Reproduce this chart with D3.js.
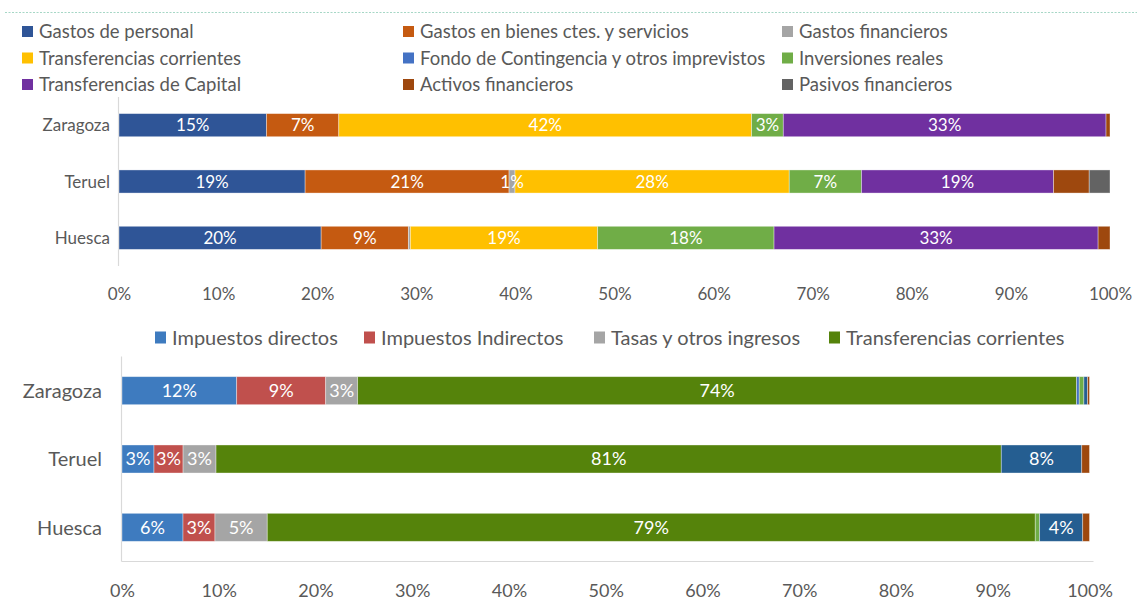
<!DOCTYPE html>
<html>
<head>
<meta charset="utf-8">
<script src="https://cdn.jsdelivr.net/npm/d3@7"></script>
<style>
  html, body { margin: 0; padding: 0; background: #fff; }
  svg text { font-family: Lato, "Open Sans", sans-serif; }
</style>
</head>
<body>
<svg id="chart" width="1137" height="601"></svg>
<script>
// ---------- Data: top chart (gastos) ----------
const topCategories = ["Zaragoza", "Teruel", "Huesca"];
const topSeriesNames = [
  "Gastos de personal", "Gastos en bienes ctes. y servicios", "Gastos financieros",
  "Transferencias corrientes", "Fondo de Contingencia y otros imprevistos", "Inversiones reales",
  "Transferencias de Capital", "Activos financieros", "Pasivos financieros"
];
const gastosPersonal = [14.9, 18.8, 20.4];
const gastosBienes = [7.3, 20.6, 8.8];
const gastosFinancieros = [0.0, 0.6, 0.2];
const transferenciasCorrientesG = [41.7, 27.7, 18.9];
const fondoContingencia = [0, 0, 0];
const inversionesReales = [3.2, 7.3, 17.8];
const transferenciasCapitalG = [32.6, 19.4, 32.7];
const activosFinancierosG = [0.4, 3.6, 1.2];
const pasivosFinancierosG = [0, 2.1, 0];
const topColors = ["#2F5597", "#C55A11", "#A5A5A5", "#FFC000", "#4472C4", "#70AD47", "#7030A0", "#9E480E", "#636363"];
const topShowLabel = [true, true, true, true, true, true, true, false, false];

// ---------- Data: bottom chart (ingresos) ----------
const bottomCategories = ["Zaragoza", "Teruel", "Huesca"];
const bottomSeriesNames = [
  "Impuestos directos", "Impuestos Indirectos", "Tasas y otros ingresos", "Transferencias corrientes",
  "Ingresos patrimoniales", "Enajenación de inversiones reales", "Transferencias de capital", "Activos financieros"
];
const impuestosDirectos = [11.85, 3.3, 6.3];
const impuestosIndirectos = [9.2, 3.0, 3.3];
const tasasOtros = [3.3, 3.4, 5.4];
const transferenciasCorrientesI = [74.3, 81.0, 79.3];
const ingresosPatrimoniales = [0.27, 0, 0];
const enajenacion = [0.48, 0, 0.45];
const transferenciasCapitalI = [0.38, 8.3, 4.45];
const activosFinancierosI = [0.2, 0.8, 0.7];
const bottomColors = ["#3E7BBF", "#C0504D", "#A5A5A5", "#55830B", "#4472C4", "#70AD47", "#255E91", "#9E480E"];
const bottomShowLabel = [true, true, true, true, true, true, true, false];
const bottomLegendCount = 4;

const tickValues = [0, 0.1, 0.2, 0.3, 0.4, 0.5, 0.6, 0.7, 0.8, 0.9, 1.0];

const svg = d3.select("#chart");
const textGray = "#595959";

// dotted top border
svg.append("line").attr("x1", 5).attr("x2", 1137).attr("y1", 12.5).attr("y2", 12.5)
  .attr("stroke", "#A6D7C6").attr("stroke-width", 1.2).attr("stroke-dasharray", "2,1.5");

function buildRows(categories, seriesArrays) {
  return categories.map((c, i) => {
    const row = { cat: c };
    seriesArrays.forEach((arr, k) => row["s" + k] = arr[i]);
    return row;
  });
}

function drawChart(opts) {
  const { categories, seriesArrays, colors, showLabel, x0, x1, yTop, yBottom, padInner,
          labelFont, catFont, catRight, axisY, axisFont, drawBottomLine } = opts;
  const keys = seriesArrays.map((_, k) => "s" + k);
  const rows = buildRows(categories, seriesArrays);
  const stack = d3.stack().keys(keys).offset(d3.stackOffsetExpand);
  const series = stack(rows);

  const x = d3.scaleLinear().domain([0, 1]).range([x0, x1]);
  const y = d3.scaleBand().domain(categories).range([yTop, yBottom]).paddingInner(padInner).paddingOuter(padInner / 2);

  const g = svg.append("g");
  g.append("line").attr("x1", x0 - 0.5).attr("x2", x0 - 0.5).attr("y1", yTop).attr("y2", yBottom)
    .attr("stroke", "#D9D9D9").attr("stroke-width", 1.2);
  if (drawBottomLine) {
    g.append("line").attr("x1", x0 - 0.5).attr("x2", x1 + 4).attr("y1", yBottom).attr("y2", yBottom)
      .attr("stroke", "#D9D9D9").attr("stroke-width", 1.2);
  }

  const sg = g.selectAll("g.series").data(series).join("g").attr("fill", (d, i) => colors[i]);
  sg.selectAll("rect").data(d => d).join("rect")
    .attr("x", d => x(d[0]))
    .attr("width", d => Math.max(0, x(d[1]) - x(d[0])))
    .attr("y", d => y(d.data.cat))
    .attr("height", y.bandwidth())
    .attr("stroke", "#fff").attr("stroke-opacity", 0.45).attr("stroke-width", 0.8);

  series.forEach((s, i) => {
    if (!showLabel[i]) return;
    s.forEach(d => {
      const v = d[1] - d[0];
      const pct = Math.round(v * 100);
      if (pct < 1) return;
      g.append("text")
        .attr("x", x((d[0] + d[1]) / 2))
        .attr("y", y(d.data.cat) + y.bandwidth() / 2)
        .attr("dy", "0.36em")
        .attr("text-anchor", "middle")
        .attr("fill", "#fff")
        .attr("font-size", labelFont)
        .text(pct + "%");
    });
  });

  g.selectAll("text.cat").data(categories).join("text").attr("class", "cat")
    .attr("x", catRight)
    .attr("y", d => y(d) + y.bandwidth() / 2)
    .attr("dy", "0.36em")
    .attr("text-anchor", "end")
    .attr("fill", textGray)
    .attr("font-size", catFont)
    .text(d => d);

  const axis = d3.axisBottom(x).tickValues(tickValues).tickFormat(d3.format(".0%")).tickSize(0).tickPadding(0);
  const ag = g.append("g").attr("transform", `translate(0,${axisY})`).call(axis);
  ag.select(".domain").remove();
  ag.selectAll("text").attr("fill", textGray).attr("font-size", axisFont)
    .attr("font-family", "Lato, sans-serif").attr("dy", "0.36em").attr("y", 0);
}

// ---------- Top legend ----------
const legendCols = [22, 403, 782];
const legendRows = [31.5, 58, 84.5];
topSeriesNames.forEach((name, i) => {
  const cx = legendCols[i % 3], cy = legendRows[Math.floor(i / 3)];
  svg.append("rect").attr("x", cx).attr("y", cy - 5.5).attr("width", 11).attr("height", 11).attr("fill", topColors[i]);
  svg.append("text").attr("x", cx + 17).attr("y", cy).attr("dy", "0.36em")
    .attr("fill", textGray).attr("font-size", 18.5).text(name);
});

drawChart({
  categories: topCategories,
  seriesArrays: [gastosPersonal, gastosBienes, gastosFinancieros, transferenciasCorrientesG, fondoContingencia,
                 inversionesReales, transferenciasCapitalG, activosFinancierosG, pasivosFinancierosG],
  colors: topColors, showLabel: topShowLabel,
  x0: 119, x1: 1110, yTop: 97, yBottom: 266, padInner: 0.59,
  labelFont: 17, catFont: 17, catRight: 110, axisY: 294, axisFont: 17, drawBottomLine: false
});

// ---------- Bottom legend ----------
const bottomLegendX = [155, 364, 594, 829];
bottomSeriesNames.slice(0, bottomLegendCount).forEach((name, i) => {
  const cx = bottomLegendX[i], cy = 337.5;
  svg.append("rect").attr("x", cx).attr("y", cy - 6).attr("width", 11).attr("height", 12).attr("fill", bottomColors[i]);
  svg.append("text").attr("x", cx + 17).attr("y", cy).attr("dy", "0.36em")
    .attr("fill", textGray).attr("font-size", 20).text(name);
});

drawChart({
  categories: bottomCategories,
  seriesArrays: [impuestosDirectos, impuestosIndirectos, tasasOtros, transferenciasCorrientesI,
                 ingresosPatrimoniales, enajenacion, transferenciasCapitalI, activosFinancierosI],
  colors: bottomColors, showLabel: bottomShowLabel,
  x0: 122, x1: 1089.5, yTop: 356.5, yBottom: 561.5, padInner: 0.59,
  labelFont: 18, catFont: 20, catRight: 102, axisY: 591, axisFont: 18, drawBottomLine: true
});
</script>
</body>
</html>
